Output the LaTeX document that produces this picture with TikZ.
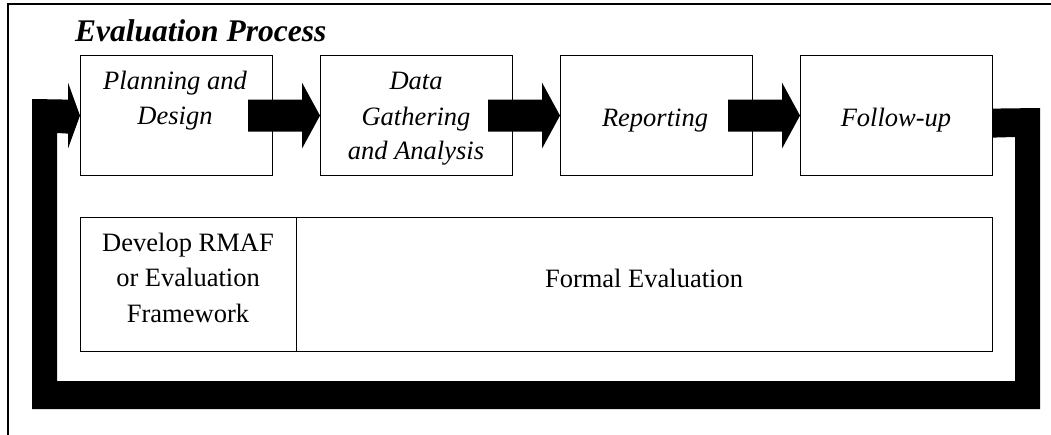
\documentclass[tikz,border=0pt]{standalone}
\usepackage{fontspec}
\setmainfont{Liberation Serif}
\usetikzlibrary{calc}

% block arrow from the inside of one stage box to the left side of the next
\newcommand\stagearrow[2]{%
  \fill ($(#1.east)+(-25,-16)$) -- ($(#2.west)+(-18,-16)$)
     -- ($(#2.west)+(-18,-33)$) -- (#2.west) -- ($(#2.west)+(-18,33)$)
     -- ($(#2.west)+(-18,16)$) -- ($(#1.east)+(-25,16)$) -- cycle;}

\begin{document}
\begin{tikzpicture}[x=1pt,y=-1pt,
  frame/.style={line width=1.2pt},
  stage/.style={draw,line width=1.2pt,minimum width=192pt,minimum height=120pt,
    inner sep=0pt,anchor=north west},
  phase/.style={draw,line width=1.2pt,minimum height=134pt,inner sep=0pt,anchor=north west},
  heading/.style={anchor=base west,inner sep=0pt,font=\fontsize{31.5}{38}\selectfont\bfseries\itshape},
  stagetext/.style={anchor=base,inner sep=0pt,font=\fontsize{26.5}{35}\selectfont\itshape},
  phasetext/.style={anchor=base,inner sep=0pt,font=\fontsize{26.5}{35}\selectfont}]
\useasboundingbox (0,0) rectangle (1051,435);

% outer frame
\draw[frame] (8,435) -- (8,4) -- (1051,4);

\node[heading] (title) at (75,42) {Evaluation Process};

% stage boxes
\node[stage] (plan)   at (80,55)  {};
\node[stage] (gather) at (320,55) {};
\node[stage] (report) at (560,55) {};
\node[stage] (follow) at (800,55) {};

\node[stagetext] (planA) at (175,90)  {Planning and};
\node[stagetext] (planB) at (175,125) {Design};
\node[stagetext] (gathA) at (416,90)  {Data};
\node[stagetext] (gathB) at (416,126) {Gathering};
\node[stagetext] (gathC) at (416,160) {and Analysis};
\node[stagetext] (repA)  at (655,127) {Reporting};
\node[stagetext] (folA)  at (896,127) {Follow-up};

% phase boxes
\node[phase,minimum width=216pt] (rmaf)   at (80,217)  {};
\node[phase,minimum width=696pt] (formal) at (296,217) {};

\node[phasetext] (rmafA) at (188,252) {Develop RMAF};
\node[phasetext] (rmafB) at (188,287) {or Evaluation};
\node[phasetext] (rmafC) at (188,322) {Framework};
\node[phasetext] (formalA) at (644,288) {Formal Evaluation};

% arrows between stages
\stagearrow{plan}{gather}
\stagearrow{gather}{report}
\stagearrow{report}{follow}

% feedback loop from follow-up back to planning
\fill ($(follow.east)+(0,-7)$) -- (1040,108) -- (1040,409) -- (32,409)
  -- (32,99) -- ($(plan.west)+(-12,-16)$) -- ($(plan.west)+(-12,-33)$)
  -- (plan.west) -- ($(plan.west)+(-12,33)$) -- ($(plan.west)+(-12,18)$)
  -- (57,133) -- (57,381) -- (1015,381) -- (1015,137)
  -- ($(follow.east)+(0,22)$) -- cycle;
\end{tikzpicture}
\end{document}
